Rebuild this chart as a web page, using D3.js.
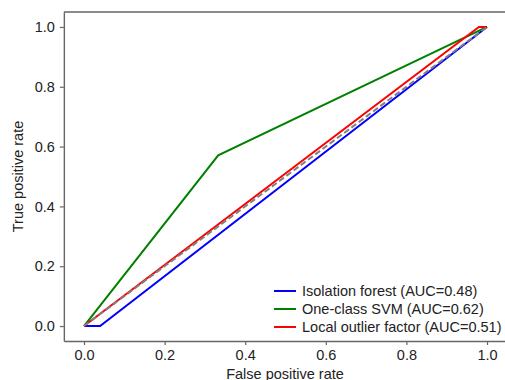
<!DOCTYPE html>
<html><head><meta charset="utf-8">
<script src="https://cdn.jsdelivr.net/npm/d3@7"></script>
<style>html,body{margin:0;padding:0;background:#fff;overflow:hidden}</style>
</head><body>
<svg id="c" width="505" height="380"></svg>
<script>
const seriesNames = ["Isolation forest (AUC=0.48)", "One-class SVM (AUC=0.62)", "Local outlier factor (AUC=0.51)"];
const seriesColors = ["#0000ff", "#008000", "#ff0000"];
const isoFPR = [0, 0.04, 1];
const isoTPR = [0, 0, 1];
const svmFPR = [0, 0.333, 1];
const svmTPR = [0, 0.571, 1];
const lofFPR = [0, 0.98, 1];
const lofTPR = [0, 1, 1];
const diagFPR = [0, 1];
const diagTPR = [0, 1];
const xTicks = [0, 0.2, 0.4, 0.6, 0.8, 1.0];
const yTicks = [0, 0.2, 0.4, 0.6, 0.8, 1.0];

const svg = d3.select("#c");
const x = d3.scaleLinear().domain([-0.05, 1.05]).range([63.85, 507.15]);
const y = d3.scaleLinear().domain([-0.05, 1.05]).range([341, 12]);
const font = "'Liberation Sans', Arial, Helvetica, sans-serif";
const fs = "14.5px";

// axes
const xAxis = svg.append("g").attr("transform", `translate(0,${y(-0.05)})`)
  .call(d3.axisBottom(x).tickValues(xTicks).tickFormat(d3.format(".1f")).tickSize(4).tickPadding(5).tickSizeOuter(0));
const yAxis = svg.append("g").attr("transform", `translate(${x(-0.05)},0)`)
  .call(d3.axisLeft(y).tickValues(yTicks).tickFormat(d3.format(".1f")).tickSize(4).tickPadding(5).tickSizeOuter(0));
[xAxis, yAxis].forEach(g => {
  g.select(".domain").attr("stroke", "#666").attr("stroke-width", 1.4);
  g.selectAll(".tick line").attr("stroke", "#666").attr("stroke-width", 1.2);
  g.selectAll(".tick text").attr("fill", "#222").style("font-family", font).style("font-size", fs);
});
// top spine
svg.append("line").attr("x1", x(-0.05)).attr("x2", x(1.05)).attr("y1", y(1.05)).attr("y2", y(1.05))
  .attr("stroke", "#666").attr("stroke-width", 1.4);

const line = d3.line().x(d => x(d[0])).y(d => y(d[1]));
const series = [
  d3.zip(isoFPR, isoTPR),
  d3.zip(svmFPR, svmTPR),
  d3.zip(lofFPR, lofTPR)
];
series.forEach((s, i) => {
  svg.append("path").datum(s).attr("d", line).attr("fill", "none")
    .attr("stroke", seriesColors[i]).attr("stroke-width", 2);
});
svg.append("path").datum(d3.zip(diagFPR, diagTPR)).attr("d", line).attr("fill", "none")
  .attr("stroke", "#808080").attr("stroke-width", 2).attr("stroke-dasharray", "6,3");

// labels
svg.append("text").attr("x", 285).attr("y", 379).attr("text-anchor", "middle")
  .style("font-family", font).style("font-size", fs).attr("fill", "#222").text("False positive rate");
svg.append("text").attr("transform", `translate(23,176.5) rotate(-90)`).attr("text-anchor", "middle")
  .style("font-family", font).style("font-size", fs).attr("fill", "#222").text("True positive rate");

// legend
const lg = svg.append("g");
seriesNames.forEach((n, i) => {
  const yy = 291 + i * 18;
  lg.append("line").attr("x1", 274).attr("x2", 296).attr("y1", yy).attr("y2", yy)
    .attr("stroke", seriesColors[i]).attr("stroke-width", 2);
  lg.append("text").attr("x", 302).attr("y", yy).attr("dy", "0.35em")
    .style("font-family", font).style("font-size", fs).attr("fill", "#222").text(n);
});
</script>
</body></html>
